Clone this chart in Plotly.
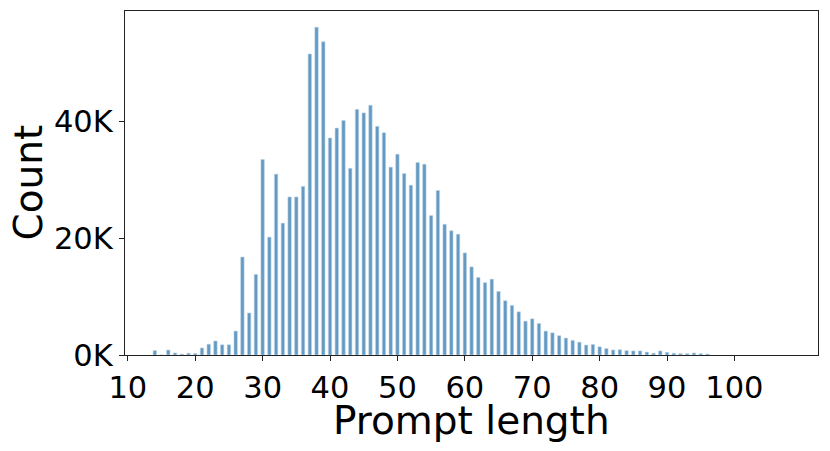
import plotly.graph_objects as go

# Prompt length histogram (counts, in thousands)
lengths = list(range(14, 97))
counts_k = [
    0.75, 0.0, 0.85, 0.35, 0.15, 0.3, 0.25, 1.2, 1.85, 2.4,      # 14-23
    1.75, 1.75, 4.1, 16.8, 7.2, 13.8, 33.5, 20.2, 31.0, 22.6,    # 24-33
    27.1, 27.1, 28.9, 51.6, 56.2, 53.7, 37.2, 38.9, 40.2, 32.0,  # 34-43
    42.1, 41.5, 42.8, 39.2, 38.1, 32.2, 34.4, 31.1, 29.1, 33.0,  # 44-53
    32.7, 23.9, 28.2, 22.4, 21.3, 20.7, 17.5, 15.1, 13.3, 12.4,  # 54-63
    13.0, 10.9, 9.3, 8.5, 7.4, 5.8, 6.2, 5.4, 4.1, 3.8,          # 64-73
    3.3, 2.9, 2.5, 2.2, 1.7, 1.8, 1.4, 1.1, 0.86, 0.9,           # 74-83
    0.75, 0.7, 0.7, 0.5, 0.3, 0.7, 0.45, 0.3, 0.23, 0.23,        # 84-93
    0.35, 0.23, 0.17,                                            # 94-96
]
counts = [c * 1000 for c in counts_k]

x_ticks = [10, 20, 30, 40, 50, 60, 70, 80, 90, 100]
y_ticks = [0, 20000, 40000]
y_tick_text = ["0K", "20K", "40K"]

font_tick = dict(family="DejaVu Sans", size=30.5, color="black")
font_title = dict(family="DejaVu Sans", size=39, color="black")

fig = go.Figure(
    go.Bar(
        x=lengths,
        y=counts,
        width=0.5,
        marker=dict(color="#6399c2", line=dict(width=0.6, color="#b9d3e6")),
    )
)

# plot area spans x 125..818, y 11..355 in pixels
fig.update_layout(
    width=830,
    height=451,
    margin=dict(l=125, r=12, t=11, b=96),
    plot_bgcolor="white",
    paper_bgcolor="white",
    showlegend=False,
)

fig.update_xaxes(
    range=[9.58, 112.4],
    tickvals=x_ticks,
    tickfont=font_tick,
    ticks="outside",
    ticklen=5,
    tickwidth=1.2,
    tickcolor="#222",
    showline=True,
    linecolor="#222",
    linewidth=1.3,
    mirror=True,
    showgrid=False,
    zeroline=False,
    automargin=False,
)

fig.update_yaxes(
    range=[0, 58970],
    tickvals=y_ticks,
    ticktext=y_tick_text,
    tickfont=font_tick,
    ticks="outside",
    ticklen=5,
    tickwidth=1.2,
    tickcolor="#222",
    showline=True,
    linecolor="#222",
    linewidth=1.3,
    mirror=True,
    showgrid=False,
    zeroline=False,
    automargin=False,
)

# axis titles placed as annotations so the margins stay fixed
plot_w, plot_h = 693, 344
fig.add_annotation(
    text="Prompt length", font=font_title, showarrow=False,
    xref="paper", yref="paper", x=0.5, y=(355 - 421) / plot_h,
    xanchor="center", yanchor="middle",
)
fig.add_annotation(
    text="Count", font=font_title, showarrow=False, textangle=-90,
    xref="paper", yref="paper", x=(27.5 - 125) / plot_w, y=0.5,
    xanchor="center", yanchor="middle",
)

# drop the default page margin so the figure sits at the window corner
fig.write_html(
    "out.html",
    config={"displayModeBar": False},
    post_script="document.body.style.margin='0';",
)
